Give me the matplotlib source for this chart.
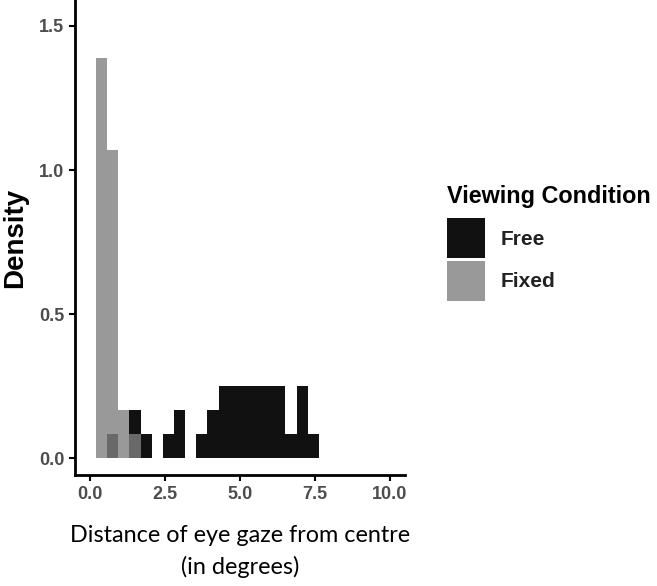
import matplotlib.pyplot as plt
import numpy as np
from matplotlib.patches import Patch

# Data: histogram bins (shared) and densities per viewing condition
bin_start = 0.2
bin_width = 0.372
n_bins = 20
free_density = [0, 0.083, 0, 0.167, 0.083, 0, 0.083, 0.167, 0, 0.083,
                0.167, 0.25, 0.25, 0.25, 0.25, 0.25, 0.25, 0.083, 0.25, 0.083]
fixed_density = [1.39, 1.07, 0.167, 0.083, 0, 0, 0, 0, 0, 0,
                 0, 0, 0, 0, 0, 0, 0, 0, 0, 0]
conditions = ["Free", "Fixed"]
x_ticks = [0.0, 2.5, 5.0, 7.5, 10.0]
y_ticks = [0.0, 0.5, 1.0, 1.5]

edges = bin_start + bin_width * np.arange(n_bins)

fig = plt.figure(figsize=(6.57, 5.86), dpi=100)
ax = fig.add_axes([0.114, 0.189, 0.502, 0.811])

ax.bar(edges, free_density, width=bin_width, align='edge', color='#111111', linewidth=0)
ax.bar(edges, fixed_density, width=bin_width, align='edge', color='#808080', alpha=0.8, linewidth=0)

ax.set_xlim(-0.5, 10.5)
ax.set_ylim(-0.059, 1.59)
ax.set_xticks(x_ticks)
ax.set_xticklabels([f"{t:.1f}" for t in x_ticks])
ax.set_yticks(y_ticks)
ax.set_yticklabels([f"{t:.1f}" for t in y_ticks])

for s in ['top', 'right']:
    ax.spines[s].set_visible(False)
for s in ['left', 'bottom']:
    ax.spines[s].set_linewidth(2)
ax.tick_params(width=1.5, length=4, color='black', labelcolor='#4d4d4d', labelsize=13)
for lab in ax.get_xticklabels() + ax.get_yticklabels():
    lab.set_family('Liberation Sans')
    lab.set_fontweight('bold')

ax.set_ylabel("Density", fontsize=20, fontweight='bold', family='Liberation Sans', labelpad=8)
ax.set_xlabel("Distance of eye gaze from centre\n(in degrees)", fontsize=16.8, family='Lato',
              labelpad=16, linespacing=1.55)

# legend title as its own text, then the keys below it
fig.text(0.680, 1 - 185 / 586, "Viewing Condition", ha='left', va='top',
         fontsize=16.8, fontweight='bold', family='Liberation Sans')
handles = [Patch(facecolor='#111111', edgecolor='none'),
           Patch(facecolor='#999999', edgecolor='none')]
leg = fig.legend(handles, conditions, loc='upper left',
                 bbox_to_anchor=(0.665, 1 - 208 / 586), frameon=False,
                 prop={'family': 'Liberation Sans', 'weight': 'bold', 'size': 15},
                 handlelength=1.82, handleheight=2.58, labelspacing=0.1, handletextpad=0.72,
                 borderpad=0)
for t in leg.get_texts():
    t.set_color('#222222')

fig.savefig('out.png', dpi=100)
